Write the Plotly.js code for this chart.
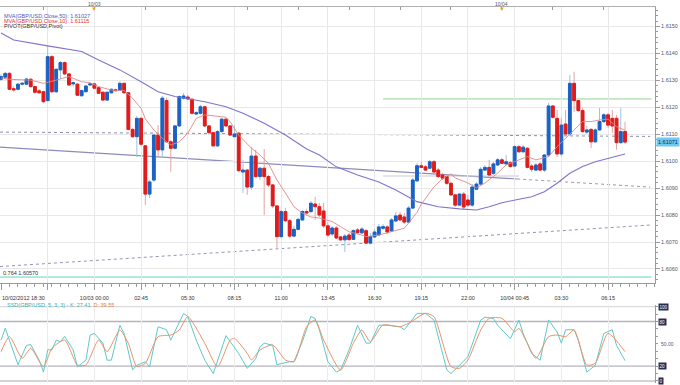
<!DOCTYPE html>
<html><head><meta charset="utf-8">
<script src="https://cdn.plot.ly/plotly-3.0.1.min.js"></script>
<style>html,body{margin:0;padding:0;background:#fff;}#chart{width:680px;height:385px;}</style>
</head><body><div id="chart"></div>
<script>
// GBP/USD 15-minute candles, candle 0 = 10/02/2012 18:30
const open = [1.61304,1.61312,1.61326,1.61269,1.61267,1.61286,1.61286,1.61304,1.61277,1.61261,
1.61258,1.61225,1.61388,1.61258,1.61339,1.61366,1.61324,1.61287,1.61286,1.61243,
1.61258,1.61283,1.61287,1.61273,1.61256,1.61227,1.61254,1.61265,1.61264,1.61289,
1.61254,1.61118,1.61091,1.61159,1.61057,1.60878,1.60930,1.61097,1.61042,1.61225,
1.61072,1.61048,1.61131,1.61234,1.61238,1.61230,1.61175,1.61178,1.61202,1.61131,
1.61106,1.61057,1.61110,1.61156,1.61131,1.61091,1.61104,1.60960,1.60967,1.60904,
1.61019,1.60943,1.60974,1.60943,1.60912,1.60834,1.60720,1.60813,1.60779,1.60722,
1.60747,1.60782,1.60813,1.60813,1.60841,1.60831,1.60815,1.60760,1.60730,1.60752,
1.60719,1.60708,1.60726,1.60710,1.60745,1.60734,1.60742,1.60696,1.60719,1.60726,
1.60751,1.60756,1.60741,1.60778,1.60800,1.60793,1.60774,1.60826,1.60927,1.60983,
1.60979,1.60974,1.60998,1.60967,1.60949,1.60943,1.60918,1.60875,1.60837,1.60878,
1.60856,1.60837,1.60896,1.60915,1.60967,1.60977,1.60955,1.60986,1.61005,1.60990,
1.60995,1.60982,1.61054,1.61035,1.61048,1.60982,1.60967,1.60990,1.60967,1.61023,
1.61205,1.61159,1.61027,1.61138,1.61101,1.61289,1.61225,1.61188,1.61108,1.61118,
1.61072,1.61116,1.61147,1.61172,1.61159,1.61159,1.61069,1.61110];
const high = [1.61324,1.61331,1.61331,1.61277,1.61290,1.61294,1.61309,1.61309,1.61279,1.61268,
1.61261,1.61428,1.61394,1.61346,1.61372,1.61370,1.61327,1.61295,1.61290,1.61266,
1.61283,1.61292,1.61290,1.61276,1.61259,1.61259,1.61270,1.61270,1.61297,1.61292,
1.61257,1.61123,1.61168,1.61164,1.61060,1.60930,1.61101,1.61134,1.61242,1.61236,
1.61079,1.61134,1.61244,1.61253,1.61246,1.61235,1.61186,1.61209,1.61205,1.61134,
1.61108,1.61116,1.61160,1.61160,1.61134,1.61134,1.61108,1.61005,1.60971,1.61053,
1.61042,1.60979,1.61045,1.60949,1.60915,1.60837,1.60819,1.60826,1.60786,1.60760,
1.60789,1.60819,1.60823,1.60852,1.60868,1.60845,1.60845,1.60774,1.60760,1.60760,
1.60722,1.60730,1.60734,1.60748,1.60752,1.60756,1.60748,1.60734,1.60748,1.60767,
1.60767,1.60763,1.60789,1.60812,1.60812,1.60808,1.60834,1.60938,1.60993,1.60997,
1.60986,1.61005,1.61005,1.60975,1.60956,1.60949,1.60923,1.60878,1.60882,1.60886,
1.60875,1.60915,1.60923,1.60979,1.60986,1.61005,1.60997,1.61012,1.61012,1.61023,
1.61001,1.61060,1.61060,1.61060,1.61053,1.60990,1.60993,1.60997,1.61027,1.61216,
1.61209,1.61190,1.61160,1.61190,1.61320,1.61332,1.61227,1.61198,1.61131,1.61123,
1.61123,1.61198,1.61179,1.61179,1.61190,1.61172,1.61198,1.61146];
const low = [1.61298,1.61309,1.61264,1.61258,1.61263,1.61281,1.61283,1.61274,1.61251,1.61250,
1.61215,1.61221,1.61253,1.61253,1.61305,1.61320,1.61279,1.61277,1.61242,1.61240,
1.61255,1.61279,1.61268,1.61250,1.61224,1.61224,1.61251,1.61259,1.61261,1.61251,
1.61114,1.61086,1.61015,1.61057,1.60837,1.60863,1.60923,1.61012,1.61012,1.61068,
1.60961,1.61044,1.61127,1.61229,1.61227,1.61173,1.61172,1.61173,1.61127,1.61101,
1.61053,1.61053,1.61106,1.61127,1.61094,1.61088,1.60960,1.60882,1.60875,1.60893,
1.60938,1.60930,1.60800,1.60904,1.60826,1.60678,1.60715,1.60774,1.60715,1.60717,
1.60743,1.60778,1.60802,1.60808,1.60782,1.60793,1.60752,1.60719,1.60722,1.60711,
1.60704,1.60663,1.60704,1.60708,1.60730,1.60730,1.60693,1.60691,1.60715,1.60722,
1.60745,1.60730,1.60737,1.60774,1.60778,1.60767,1.60771,1.60823,1.60923,1.60975,
1.60964,1.60971,1.60956,1.60938,1.60930,1.60912,1.60871,1.60830,1.60834,1.60819,
1.60830,1.60830,1.60893,1.60912,1.60964,1.60945,1.60949,1.60982,1.60990,1.60986,
1.60977,1.60979,1.61031,1.61031,1.60973,1.60960,1.60964,1.60964,1.60960,1.61016,
1.61157,1.61016,1.61019,1.61097,1.61094,1.61183,1.61183,1.61105,1.61101,1.61049,
1.61068,1.61112,1.61142,1.61123,1.61105,1.61042,1.61064,1.61064];
const close = [1.61314,1.61326,1.61267,1.61265,1.61286,1.61289,1.61305,1.61277,1.61256,1.61254,
1.61221,1.61388,1.61258,1.61341,1.61366,1.61324,1.61283,1.61291,1.61245,1.61262,
1.61279,1.61287,1.61271,1.61252,1.61227,1.61256,1.61267,1.61262,1.61289,1.61254,
1.61118,1.61091,1.61159,1.61063,1.60878,1.60923,1.61097,1.61042,1.61234,1.61072,
1.61048,1.61131,1.61240,1.61242,1.61231,1.61178,1.61180,1.61202,1.61131,1.61106,
1.61057,1.61110,1.61156,1.61131,1.61097,1.61101,1.60965,1.60967,1.60904,1.61019,
1.60943,1.60974,1.60943,1.60912,1.60834,1.60720,1.60813,1.60779,1.60722,1.60747,
1.60784,1.60813,1.60808,1.60844,1.60831,1.60800,1.60760,1.60726,1.60752,1.60715,
1.60708,1.60722,1.60709,1.60742,1.60735,1.60748,1.60696,1.60720,1.60737,1.60756,
1.60757,1.60737,1.60782,1.60797,1.60782,1.60774,1.60826,1.60930,1.60983,1.60977,
1.60967,1.60998,1.60960,1.60943,1.60937,1.60918,1.60875,1.60837,1.60878,1.60830,
1.60837,1.60904,1.60915,1.60970,1.60977,1.60949,1.60990,1.61005,1.60992,1.60998,
1.60980,1.61054,1.61035,1.61052,1.60977,1.60970,1.60986,1.60967,1.61023,1.61205,
1.61163,1.61027,1.61134,1.61101,1.61289,1.61225,1.61188,1.61110,1.61116,1.61072,
1.61116,1.61147,1.61172,1.61134,1.61131,1.61069,1.61110,1.61071];

// Moving averages (candle index, value)
const ma50Idx = [0,3,11,19,23,28,33,37,41,48,53,57,62,67,72,75,79,84,89,93,98,103,108,112,115,118,122,125,128,131,134,137,140,143,147];
const ma50Val = [1.61476,1.61450,1.61428,1.61407,1.61376,1.61339,1.61295,1.61258,1.61240,1.61221,1.61202,1.61178,1.61141,1.61097,1.61045,1.61023,1.60979,1.60949,1.60923,1.60893,1.60850,1.60831,1.60823,1.60819,1.60831,1.60846,1.60859,1.60868,1.60887,1.60918,1.60955,1.60980,1.60998,1.61011,1.61027];
const ma10Idx = [0,2,7,10,13,16,19,21,23,26,29,31,33,34,36,38,40,42,44,46,48,51,53,54,56,59,61,63,65,67,69,71,73,75,78,80,82,85,86,89,92,95,96,98,99,102,104,106,107,110,112,114,117,119,122,124,126,129,131,133,135,137,139,141,143,145,147];
const ma10Val = [1.61309,1.61304,1.61301,1.61289,1.61301,1.61314,1.61295,1.61291,1.61277,1.61264,1.61262,1.61234,1.61196,1.61157,1.61116,1.61085,1.61060,1.61072,1.61104,1.61159,1.61172,1.61165,1.61163,1.61146,1.61097,1.61048,1.61023,1.60992,1.60930,1.60882,1.60831,1.60807,1.60793,1.60789,1.60776,1.60757,1.60738,1.60726,1.60720,1.60726,1.60738,1.60751,1.60770,1.60810,1.60840,1.60905,1.60935,1.60953,1.60938,1.60919,1.60901,1.60919,1.60956,1.60986,1.61005,1.61017,1.61005,1.61017,1.61054,1.61085,1.61116,1.61147,1.61147,1.61153,1.61156,1.61128,1.61115];

// Slow stochastic (5,3,3)
const stochKIdx = [0,1,4,6,7,9,10,11,12,13,14,15,17,18,20,21,22,24,25,26,28,29,31,32,34,35,37,39,40,43,44,46,48,50,53,54,56,58,60,61,62,64,65,68,69,71,73,74,75,77,79,80,82,84,86,87,89,91,94,95,98,100,102,105,106,108,110,113,114,116,117,120,122,123,125,127,129,131,132,133,135,136,138,140,142,144,145,147];
const stochK = [55,71,22,48,49,28,12,42,42,55,53,60,42,19,28,62,64,51,28,28,75,64,15,21,26,19,73,69,55,91,87,55,28,10,61,53,37,17,30,46,51,48,22,26,26,53,87,84,69,26,12,15,42,75,51,51,75,75,73,69,91,91,82,15,10,21,33,82,86,84,75,57,82,64,37,28,82,66,51,69,69,55,12,21,64,69,48,27.41];
const stochDIdx = [0,2,5,7,10,12,15,18,20,23,25,28,30,32,34,37,40,42,44,48,51,54,55,58,59,61,64,67,69,72,74,76,80,83,85,87,90,94,96,100,102,106,108,110,113,115,118,121,122,124,126,129,131,133,135,138,140,143,147];
const stochD = [39.5,59.7,30.5,44,19.3,44,55.2,21.5,21.5,55.2,39.5,68.6,50.7,19.3,23.8,59.7,61.9,68.6,86.6,50.7,19.3,55.2,57.4,37.2,28.3,41.7,48.5,28.3,26,73.1,82.1,55.2,14.8,50.7,68.6,52.9,75.4,73.1,77.6,91.1,86.6,19.3,17.1,28.3,68.6,84.4,84.4,66.4,70.9,50.7,30.5,59.7,61.9,59.7,68.6,21.5,23.8,64.2,39.55];

// Pivot / trend lines (start, end levels)
const trendDotted = [1.61108, 1.61092];
const trendSolid = [1.61052, 1.60934, 1.60904];
const trendRising = [1.60609, 1.60763];
const pivotGrey = 1.60945;
const resistGreen = 1.61231;
const fib764 = 1.60570;

// Axis labels
const tickIdx = [0,11,22,33,44,55,66,77,88,99,110,121,132,143];
const tickText = ['','','10/03 00:00','02:45','05:30','08:15','11:00','13:45','16:30','19:15','22:00','10/04 00:45','03:30','06:15'];
const topTickIdx = [10,22,34,46,58,70,82,94,106,118,130,142,154];
const dayIdx = [22, 118];
const dayText = ['10/03', '10/04'];
const priceTicks = [1.606,1.607,1.608,1.609,1.610,1.611,1.612,1.613,1.614,1.615];

const W = 680, H = 385;
const plotRight = 655, mainTop = 7, mainBot = 283, subTop = 305, subBot = 383;
const xr = [-0.236, 154.06];
const xEnd = 152.9;
const idx = open.map((_, i) => i);
const bodyHi = open.map((o, i) => Math.max(o, close[i]));
const bodyLo = open.map((o, i) => Math.min(o, close[i]));
const py = v => 1 - v / H;
const BLUE = '#1a62c4', RED = '#e01b1b';

const traces = [
  {type:'candlestick', x: idx, open, high, low, close, xaxis:'x', yaxis:'y', whiskerwidth:0, hoverinfo:'skip',
   increasing:{line:{color:'#9cc3e2', width:1}, fillcolor:'rgba(0,0,0,0)'},
   decreasing:{line:{color:'#e6a3a3', width:1}, fillcolor:'rgba(0,0,0,0)'}},
  {type:'candlestick', x: idx, open, high: bodyHi, low: bodyLo, close, xaxis:'x', yaxis:'y', whiskerwidth:0, hoverinfo:'skip',
   increasing:{line:{color:BLUE, width:1}, fillcolor:BLUE},
   decreasing:{line:{color:RED, width:1}, fillcolor:RED}},
  {type:'scatter', mode:'lines', x: ma50Idx, y: ma50Val, xaxis:'x', yaxis:'y', line:{color:'#7d75cc', width:1.1}, hoverinfo:'skip'},
  {type:'scatter', mode:'lines', x: ma10Idx, y: ma10Val, xaxis:'x', yaxis:'y', line:{color:'#e08888', width:0.9}, hoverinfo:'skip'},
  {type:'scatter', mode:'lines', x: stochKIdx, y: stochK, xaxis:'x2', yaxis:'y2', line:{color:'#5ec9c9', width:1}, hoverinfo:'skip'},
  {type:'scatter', mode:'lines', x: stochDIdx, y: stochD, xaxis:'x2', yaxis:'y2', line:{color:'#e8936a', width:1, shape:'spline', smoothing:0.6}, hoverinfo:'skip'},
  {type:'scatter', mode:'markers', x:[0], y:[1.61], xaxis:'x3', yaxis:'y', marker:{opacity:0}, hoverinfo:'skip'}
];

const line = (x0, y0, x1, y1, color, width, dash, xref, yref) => ({type:'line', xref: xref||'x', yref: yref||'y', x0, y0, x1, y1, line:{color, width, dash: dash||'solid'}, layer:'below'});
const shapes = [
  line(xr[0], trendDotted[0], xEnd, trendDotted[1], '#8e8ea8', 1, 'dot'),
  line(xr[0], trendSolid[0], 121.6, trendSolid[1], '#8c8cb8', 1.2),
  line(121.6, trendSolid[1], xEnd, trendSolid[2], '#9a9ab4', 1, 'dot'),
  line(xr[0], trendRising[0], xEnd, trendRising[1], '#9494b4', 1, 'dot'),
  line(90, pivotGrey, 122, pivotGrey, '#c9c9d2', 1),
  line(90, resistGreen, 153.2, resistGreen, '#8fd68f', 1),
  line(xr[0], fib764, 153.2, fib764, '#5fd2c8', 1),
  line(0, 80, plotRight/W, 80, '#b4b4bc', 1.4, 'solid', 'paper', 'y2'),
  line(0, 20, plotRight/W, 20, '#b4b4bc', 1.4, 'solid', 'paper', 'y2'),
  line(0, 100, plotRight/W, 100, '#d2d2d6', 1, 'solid', 'paper', 'y2'),
  line(0, 0, plotRight/W, 0, '#c4c4ca', 1.4, 'solid', 'paper', 'y2')
];

const txt = (text, x, y, color, opts) => Object.assign({text, xref:'paper', yref:'paper', x: x / W, y: py(y), xanchor:'left', yanchor:'middle', showarrow:false, font:{size:5.5, color}}, opts||{});
const tag = (text, v) => ({text, xref:'paper', yref:'y2', x: 658 / W, y: v, xanchor:'left', yanchor:'middle', showarrow:false, bgcolor:'#2c2c52', borderpad:0.5, font:{size:4.5, color:'#ffffff'}});
const annotations = [
  txt('MVA(GBP/USD,Close,50): 1.61027', 2, 15.7, '#5252b8'),
  txt('MVA(GBP/USD,Close,10): 1.61115', 2, 20.7, '#dd3030'),
  txt('PIVOT(GBP/USD,Pivot)', 2, 25.7, '#333333'),
  txt('0.764 1.60570', 1, 272.5, '#333333'),
  txt('10/02/2012 18:30', 0, 297.5, '#333333'),
  txt('<span style="color:#38b0b0">SSD(GBP/USD, 5, 3, 3) - K: 27.41</span>  <span style="color:#e0803a">D: 39.55</span>', 5, 304.5, '#38b0b0'),
  ...dayIdx.map((k, i) => ({text: dayText[i], xref:'x', yref:'paper', x:k, y:py(3.6), xanchor:'center', yanchor:'middle', showarrow:false, font:{size:5, color:'#555'}})),
  ...dayIdx.map(k => ({text:'▼', xref:'x', yref:'paper', x:k, y:py(9.5), xanchor:'center', yanchor:'middle', showarrow:false, font:{size:6, color:'#f0a020'}})),
  {text:'1.61071', xref:'paper', yref:'y', x:656 / W, y: close[close.length-1], xanchor:'left', yanchor:'middle', showarrow:false, bgcolor:'#6ccaf2', borderpad:1, font:{size:5.5, color:'#0a2a60'}},
  tag('100', 100), tag('80', 80), tag('20', 20), tag('0', 0),
  {text:'50.00', xref:'paper', yref:'y2', x:659 / W, y:50, xanchor:'left', yanchor:'middle', showarrow:false, font:{size:5, color:'#555577'}}
];

const axisGrey = '#9a9a9a';
const layout = {
  width: W, height: H, margin:{l:0, r:0, t:0, b:0}, paper_bgcolor:'#ffffff', plot_bgcolor:'#ffffff',
  showlegend:false, boxgap:0.35, boxgroupgap:0,
  font:{family:'Liberation Sans, Arial, sans-serif', size:5.5, color:'#333'},
  xaxis:{domain:[0, plotRight/W], range:xr, anchor:'y', rangeslider:{visible:false}, tickmode:'array', tickvals:tickIdx, ticktext:tickText,
    ticks:'outside', ticklen:6, tickcolor:axisGrey, showline:true, linecolor:axisGrey, showgrid:true, gridcolor:'#e8e8e8', zeroline:false,
    minor:{tick0:0, dtick:2, ticklen:3, tickcolor:axisGrey, showgrid:false}, tickfont:{size:5.5, color:'#333'}, ticklabelstandoff:3, fixedrange:true},
  yaxis:{domain:[1 - mainBot/H, 1 - mainTop/H], range:[1.605479, 1.615724], side:'right', anchor:'x', tickmode:'array', tickvals:priceTicks,
    tickformat:'.4f', ticks:'outside', ticklen:4, tickcolor:axisGrey, showline:true, linecolor:axisGrey, showgrid:true, gridcolor:'#e8e8e8', zeroline:false,
    minor:{dtick:0.0002, ticklen:2, tickcolor:axisGrey, showgrid:false}, tickfont:{size:5.5, color:'#4a5870'}, fixedrange:true},
  xaxis2:{domain:[0, plotRight/W], anchor:'y2', matches:'x', range:xr, rangeslider:{visible:false}, tickmode:'array', tickvals:tickIdx, showticklabels:false, ticks:'',
    showgrid:true, gridcolor:'#ececec', showline:false, zeroline:false, fixedrange:true},
  yaxis2:{domain:[1 - subBot/H, 1 - subTop/H], range:[-2.7, 102.3], side:'right', anchor:'x2', showgrid:false, zeroline:false, showline:true, linecolor:axisGrey,
    tickmode:'array', tickvals:[0,10,20,30,40,50,60,70,80,90,100], ticks:'outside', ticklen:2, tickcolor:axisGrey, showticklabels:false, fixedrange:true},
  xaxis3:{overlaying:'x', side:'top', anchor:'y', range:xr, tickmode:'array', tickvals:topTickIdx, showticklabels:false, ticks:'inside', ticklen:3, tickcolor:axisGrey,
    showline:true, linecolor:'#b0b0b0', showgrid:false, zeroline:false, fixedrange:true},
  shapes, annotations
};

Plotly.newPlot('chart', traces, layout, {staticPlot:true, displayModeBar:false});
</script></body></html>
